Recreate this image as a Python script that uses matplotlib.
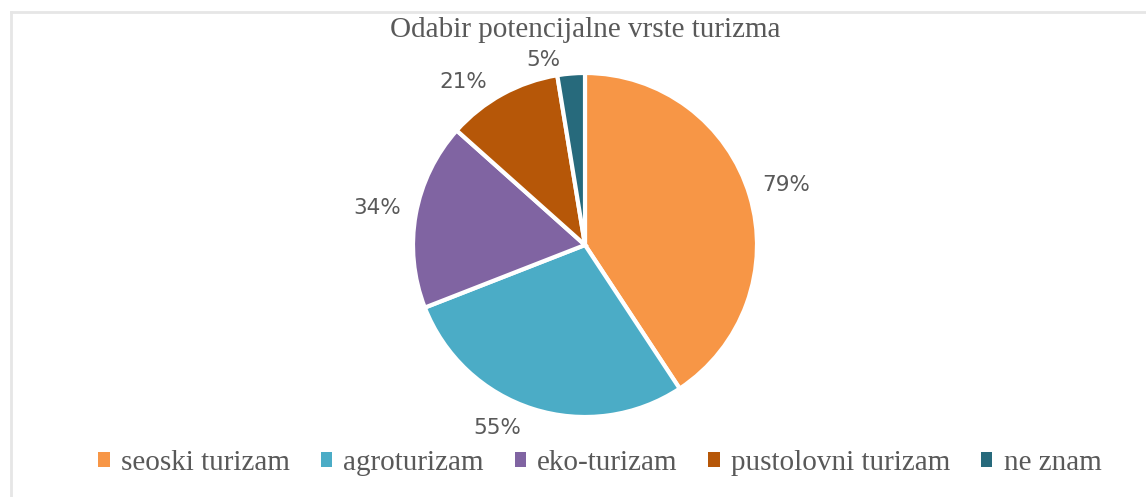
import numpy as np
import matplotlib
matplotlib.use("Agg")
import matplotlib.pyplot as plt
from matplotlib.patches import Patch
from matplotlib.lines import Line2D

categories = ["seoski turizam", "agroturizam", "eko-turizam", "pustolovni turizam", "ne znam"]
values = [79, 55, 34, 21, 5]
colors = ["#F79646", "#4BACC6", "#8064A2", "#B65708", "#276A7C"]
title = "Odabir potencijalne vrste turizma"

# label placement tweaks (Excel "best fit" look): radius and angle shift in degrees
label_dist = [1.22, 1.18, 1.23, 1.18, 1.10]
label_shift = [0, -8, 0, 8, 8]

W, H = 1146, 497
fig = plt.figure(figsize=(W / 100, H / 100), dpi=100)
fig.patch.set_facecolor("white")

# light frame on top and left edges
fig.add_artist(Line2D([11 / W, 11 / W], [0, 1 - 12 / H], color="#E6E6E6", lw=2))
fig.add_artist(Line2D([11 / W, 1], [1 - 12 / H, 1 - 12 / H], color="#E6E6E6", lw=2))

r = 172
cx, cy = 585, 245
ax = fig.add_axes([(cx - r) / W, 1 - (cy + r) / H, 2 * r / W, 2 * r / H])
wedges, texts = ax.pie(values, colors=colors, startangle=90, counterclock=False,
                       labels=[f"{v}%" for v in values], labeldistance=1.2,
                       wedgeprops=dict(edgecolor="white", linewidth=3),
                       textprops=dict(color="#595959", fontsize=15.5, family="DejaVu Sans"))
for w, t, d, s in zip(wedges, texts, label_dist, label_shift):
    ang = np.deg2rad((w.theta1 + w.theta2) / 2 + s)
    t.set_position((d * np.cos(ang), d * np.sin(ang)))
    t.set_ha("center")
    t.set_va("center")
ax.set_xlim(-1, 1)
ax.set_ylim(-1, 1)
ax.set_aspect("equal")
ax.axis("off")

fig.text(cx / W, 1 - 30 / H, title, ha="center", va="center",
         family="Liberation Serif", fontsize=21, color="#595959")

handles = [Patch(facecolor=c, edgecolor="none") for c in colors]
fig.legend(handles, categories, loc="center", bbox_to_anchor=(600 / W, 1 - 463 / H),
           ncol=5, frameon=False, handlelength=0.38, handleheight=0.38, handletextpad=0.4,
           columnspacing=1.05, prop=dict(family="Liberation Serif", size=21),
           labelcolor="#595959")

fig.savefig("out.png", dpi=100, facecolor="white")
